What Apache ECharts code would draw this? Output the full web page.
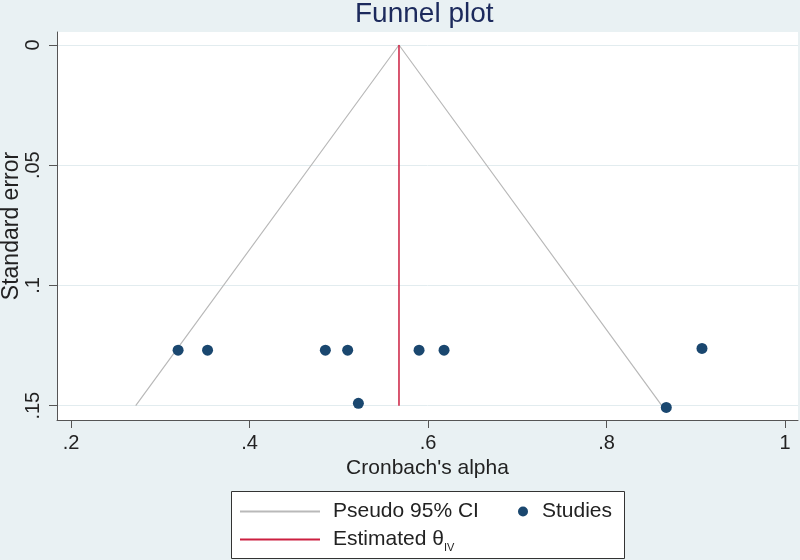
<!DOCTYPE html>
<html>
<head>
<meta charset="utf-8">
<script src="https://cdn.jsdelivr.net/npm/echarts@6/dist/echarts.min.js"></script>
<style>html,body{margin:0;padding:0;background:#e9f1f3;}#c{width:800px;height:560px;}</style>
</head>
<body>
<div id="c"></div>
<script>
// ---- data ----
var studyAlpha = [0.320, 0.353, 0.485, 0.510, 0.522, 0.590, 0.618, 0.867, 0.907];
var studySE    = [0.1269, 0.1269, 0.1269, 0.1269, 0.1490, 0.1269, 0.1269, 0.1507, 0.1262];
var thetaIV = 0.5675;
var funnelAlpha = [0.2725, 0.5675, 0.8620];
var funnelSE    = [0.15, 0, 0.15];
var thetaSE     = [0, 0.15];
var xTicks = [0.2, 0.4, 0.6, 0.8, 1];
var yTicks = [0, 0.05, 0.1, 0.15];

var FONT = '"Liberation Sans", Arial, Helvetica, sans-serif';
function fmt(v) {
  var s = String(+v.toFixed(4));
  return s.replace(/^0\./, '.');
}

var chart = echarts.init(document.getElementById('c'), null, {renderer: 'canvas'});
var option = {
  backgroundColor: '#e9f1f3',
  animation: false,
  textStyle: {fontFamily: FONT},
  title: {
    text: 'Funnel plot',
    left: 355, top: 0, padding: 0,
    textStyle: {fontSize: 28, fontWeight: 'normal', color: '#1c2a5c', fontFamily: FONT}
  },
  grid: {
    left: 57, right: 2, top: 32, bottom: 140,
    containLabel: false, outerBoundsMode: 'none',
    show: true, backgroundColor: '#ffffff', borderWidth: 0
  },
  xAxis: {
    type: 'value',
    min: 0.1843, max: 1.0146,
    name: "Cronbach's alpha",
    nameLocation: 'middle', nameGap: 36,
    nameTextStyle: {fontSize: 21, color: '#222', fontFamily: FONT},
    axisLine: {show: true, onZero: false, lineStyle: {color: '#555', width: 1}},
    axisTick: {show: true, length: 8, customValues: xTicks, lineStyle: {color: '#555'}},
    axisLabel: {customValues: xTicks, formatter: fmt, fontSize: 20, color: '#222', margin: 13, fontFamily: FONT},
    splitLine: {show: false}
  },
  yAxis: {
    type: 'value',
    inverse: true,
    min: -0.0054, max: 0.15595,
    name: 'Standard error',
    nameLocation: 'middle', nameGap: 34, nameMoveOverlap: false,
    nameTextStyle: {fontSize: 23, color: '#222', fontFamily: FONT},
    axisLine: {show: true, onZero: false, lineStyle: {color: '#555', width: 1}},
    axisTick: {show: true, length: 8, customValues: yTicks, lineStyle: {color: '#555'}},
    axisLabel: {customValues: yTicks, formatter: fmt, rotate: 90, fontSize: 20, color: '#222', margin: 14, fontFamily: FONT},
    splitLine: {show: true, lineStyle: {color: '#e2ecef', width: 1}}
  },
  graphic: [{
    type: 'rect', z: 0,
    shape: {x: 231.5, y: 491.5, width: 393, height: 67},
    style: {fill: '#ffffff', stroke: '#333333', lineWidth: 1}
  }],
  legend: [{
    data: [{name: 'Pseudo 95% CI', icon: 'rect'}],
    left: 240, top: 501, padding: 0, selectedMode: false,
    itemWidth: 80, itemHeight: 2,
    textStyle: {fontSize: 21, color: '#222', padding: [0, 0, 0, 8], fontFamily: FONT}
  }, {
    data: [{name: 'Studies', icon: 'circle'}],
    left: 518, top: 501, padding: 0, selectedMode: false,
    itemWidth: 10, itemHeight: 10,
    itemStyle: {opacity: 1},
    textStyle: {fontSize: 21, color: '#222', padding: [0, 0, 0, 9], fontFamily: FONT}
  }, {
    data: [{name: 'Estimated θIV', icon: 'rect'}],
    left: 240, top: 529, padding: 0, selectedMode: false,
    itemWidth: 80, itemHeight: 2,
    formatter: function () { return '{a|Estimated θ}{b|IV}'; },
    textStyle: {
      fontSize: 21, color: '#222', padding: [0, 0, 0, 8], fontFamily: FONT,
      rich: {
        a: {fontSize: 21, color: '#222', lineHeight: 28, fontFamily: FONT},
        b: {fontSize: 11, color: '#222', lineHeight: 11, verticalAlign: 'bottom', fontFamily: FONT}
      }
    }
  }],
  series: [{
    name: 'Pseudo 95% CI',
    type: 'line',
    data: funnelAlpha.map(function (a, i) { return [a, funnelSE[i]]; }),
    symbol: 'none',
    color: '#b9b9b9',
    lineStyle: {color: '#b9b9b9', width: 1.2},
    z: 2
  }, {
    name: 'Estimated θIV',
    type: 'line',
    data: thetaSE.map(function (s) { return [thetaIV, s]; }),
    symbol: 'none',
    color: '#cc1f40',
    lineStyle: {color: '#cc1f40', width: 1.5},
    z: 3
  }, {
    name: 'Studies',
    type: 'scatter',
    data: studyAlpha.map(function (a, i) { return [a, studySE[i]]; }),
    symbol: 'circle',
    symbolSize: 11,
    color: '#1a476f',
    itemStyle: {color: '#1a476f', opacity: 1},
    z: 4
  }]
};
chart.setOption(option);
</script>
</body>
</html>
